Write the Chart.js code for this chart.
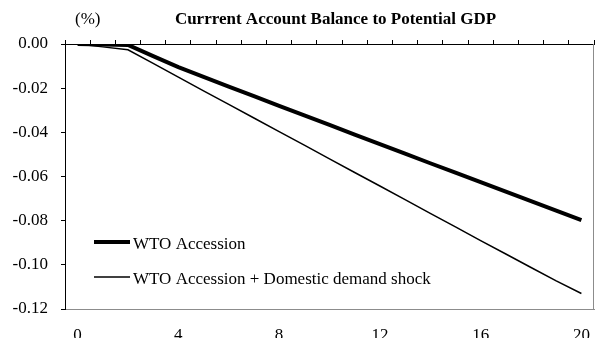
<!DOCTYPE html>
<html>
<head>
<meta charset="utf-8">
<script src="https://cdn.jsdelivr.net/npm/chart.js@4/dist/chart.umd.min.js"></script>
<style>
  html, body { margin: 0; padding: 0; background: #fff; width: 596px; height: 338px; overflow: hidden; }
  canvas { display: block; }
</style>
</head>
<body>
<canvas id="chart" width="596" height="349"></canvas>
<script>
// Periods after accession
const periods = ['0','1','2','3','4','5','6','7','8','9','10','11','12','13','14','15','16','17','18','19','20'];

// Current account balance to potential GDP (%)
const wtoAccession = [0, -0.0002, -0.0004, -0.0055, -0.0105, -0.0149, -0.0193, -0.0236, -0.0280, -0.0323, -0.0366,
                      -0.0410, -0.0453, -0.0496, -0.0540, -0.0583, -0.0626, -0.0669, -0.0712, -0.0755, -0.0798];
const wtoDomesticShock = [0, -0.0013, -0.0026, -0.0088, -0.0150, -0.0212, -0.0273, -0.0335, -0.0397, -0.0458, -0.0520,
                          -0.0582, -0.0643, -0.0705, -0.0767, -0.0828, -0.0890, -0.0951, -0.1012, -0.1073, -0.1130];

// Axis tick labels
const xTickLabels = ['0', '4', '8', '12', '16', '20'];
const yTickValues = [0, -0.02, -0.04, -0.06, -0.08, -0.10, -0.12];

const SERIF = "'Liberation Serif', 'Times New Roman', serif";
const FONT_SIZE = 17;

// Title and unit label above the plot
const headerPlugin = {
  id: 'header',
  afterDraw(chart) {
    const { ctx, chartArea } = chart;
    ctx.save();
    ctx.fillStyle = '#000';
    ctx.textBaseline = 'alphabetic';
    ctx.font = 'bold ' + FONT_SIZE + 'px ' + SERIF;
    ctx.textAlign = 'center';
    ctx.fillText('Currrent Account Balance to Potential GDP', (chartArea.left + chartArea.right) / 2 + 6, 24);
    ctx.font = FONT_SIZE + 'px ' + SERIF;
    ctx.textAlign = 'left';
    ctx.fillText('(%)', chartArea.left + 10, 23.5);
    ctx.restore();
  }
};

// Grey frame on the right edge of the plot area
const framePlugin = {
  id: 'frame',
  afterDraw(chart) {
    const { ctx, chartArea } = chart;
    ctx.save();
    ctx.strokeStyle = '#8c8c8c';
    ctx.lineWidth = 1;
    const x = Math.round(chartArea.right) - 0.5;
    ctx.beginPath();
    ctx.moveTo(x, chartArea.top);
    ctx.lineTo(x, chartArea.bottom);
    ctx.stroke();
    ctx.restore();
  }
};

// Legend drawn inside the lower-left part of the plot
const insideLegendPlugin = {
  id: 'insideLegend',
  afterDraw(chart) {
    const { ctx, chartArea } = chart;
    ctx.save();
    ctx.font = FONT_SIZE + 'px ' + SERIF;
    ctx.fillStyle = '#000';
    ctx.textAlign = 'left';
    ctx.textBaseline = 'alphabetic';
    chart.data.datasets.forEach((ds, i) => {
      const baseline = chartArea.bottom - 60.5 + i * 35;
      const ly = baseline - 6.5;
      ctx.strokeStyle = ds.borderColor;
      ctx.lineWidth = ds.borderWidth;
      ctx.beginPath();
      ctx.moveTo(chartArea.left + 29, ly);
      ctx.lineTo(chartArea.left + 65, ly);
      ctx.stroke();
      ctx.fillText(ds.label, chartArea.left + 68, baseline);
    });
    ctx.restore();
  }
};

new Chart(document.getElementById('chart'), {
  type: 'line',
  data: {
    labels: periods,
    datasets: [
      {
        label: 'WTO Accession',
        data: wtoAccession,
        borderColor: '#000',
        borderWidth: 4,
        pointRadius: 0,
        tension: 0,
        xAxisID: 'x',
        yAxisID: 'y'
      },
      {
        label: 'WTO Accession + Domestic demand shock',
        data: wtoDomesticShock,
        borderColor: '#000',
        borderWidth: 1.5,
        pointRadius: 0,
        tension: 0,
        xAxisID: 'x',
        yAxisID: 'y'
      }
    ]
  },
  options: {
    responsive: false,
    animation: false,
    layout: { padding: { top: 40, right: 2, bottom: 0, left: 0 } },
    plugins: {
      legend: { display: false },
      title: { display: false },
      tooltip: { enabled: false }
    },
    scales: {
      x: {
        type: 'category',
        position: 'bottom',
        offset: true,
        grid: { drawOnChartArea: false, drawTicks: false },
        border: { color: '#8c8c8c', width: 1 },
        ticks: {
          autoSkip: false,
          maxRotation: 0,
          padding: 16,
          color: '#000',
          font: { family: SERIF, size: FONT_SIZE },
          callback: (v, i) => xTickLabels.includes(periods[i]) ? periods[i] : ''
        },
        afterFit: s => { s.height = 40; s.paddingLeft = 0; s.paddingRight = 0; }
      },
      xTop: {
        type: 'category',
        position: 'top',
        labels: periods,
        offset: true,
        grid: { drawOnChartArea: false, drawTicks: true, tickLength: 4, color: '#000', offset: true },
        border: { color: '#000', width: 1 },
        ticks: { display: false },
        afterFit: s => { s.height = 4; s.paddingLeft = 0; s.paddingRight = 0; }
      },
      y: {
        position: 'left',
        min: -0.12,
        max: 0,
        afterBuildTicks: s => { s.ticks = yTickValues.map(v => ({ value: v })); },
        grid: { drawOnChartArea: false, tickLength: 4, color: '#000' },
        border: { color: '#000', width: 1 },
        ticks: {
          padding: 13,
          color: '#000',
          font: { family: SERIF, size: FONT_SIZE },
          callback: v => v.toFixed(2)
        },
        afterFit: s => { s.width = 65; }
      }
    }
  },
  plugins: [headerPlugin, framePlugin, insideLegendPlugin]
});
</script>
</body>
</html>
